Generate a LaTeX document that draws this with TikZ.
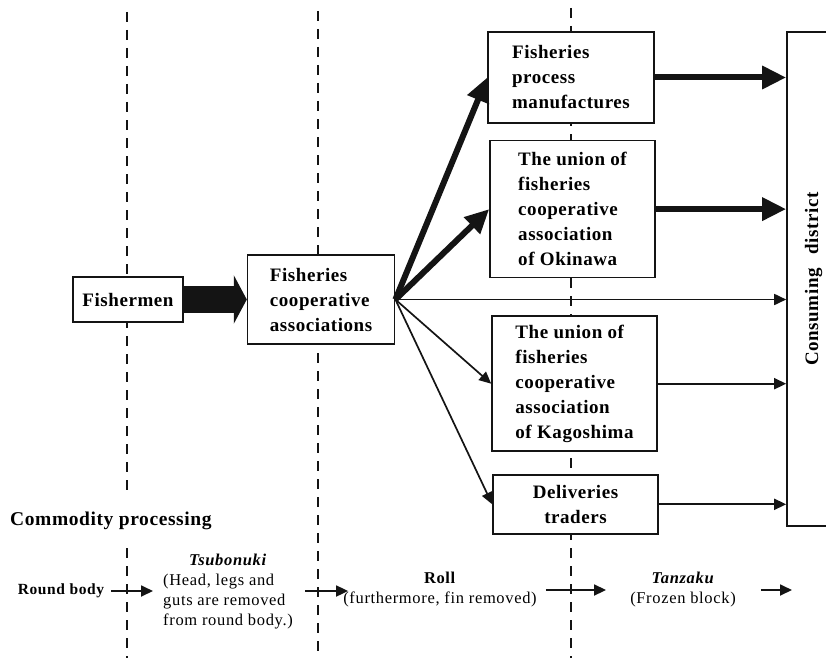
\documentclass[tikz,border=0pt]{standalone}
\usepackage{fontspec}
\setmainfont{Liberation Serif}
\newfontfamily\boxfont[LetterSpace=3]{Liberation Serif}
\newfontfamily\procfont[LetterSpace=4]{Liberation Serif}
\usepackage{graphicx}
\usepackage{tikz}
\usetikzlibrary{
  positioning,
  arrows.meta
}
\definecolor{inkcolor}{RGB}{20,20,20}
\tikzset{
  actorbox/.style={
    draw=inkcolor, fill=white, line width=1.6pt, inner sep=2pt,
    font=\boxfont\fontsize{19}{25}\selectfont\bfseries, align=left
  },
  sepline/.style={
    draw=inkcolor, line width=2pt, dash pattern=on 10pt off 8pt
  },
  massarrow/.style={
    -{Triangle[length=13pt, width=48pt]}, line width=27pt, draw=inkcolor
  },
  heavyarrow/.style={
    -{Triangle[length=24pt, width=22pt]}, line width=6pt, draw=inkcolor
  },
  thinarrow/.style={
    -{Triangle[length=12pt, width=11pt]}, line width=1.7pt, draw=inkcolor
  },
  procarrow/.style={
    -{Triangle[length=12pt, width=11pt]}, line width=1.8pt, draw=inkcolor
  },
  proctext/.style={
    inner sep=0pt, font=\procfont\fontsize{16.5}{20}\selectfont, align=center
  }
}
\begin{document}
\begin{tikzpicture}[x=1pt, y=-1pt]
  \clip (0,0) rectangle (826,658);

  % stage separators
  \draw[sepline] (127,12) -- (127,492);
  \draw[sepline] (127,548) -- (127,658);
  \draw[sepline] (318,11) -- (318,658);
  \draw[sepline] (571,8) -- (571,658);

  % distribution channel
  \node[actorbox, minimum width=110pt, minimum height=45pt] (fisher) at (128,299.5) {Fishermen};
  \node[actorbox, minimum width=147pt, minimum height=89pt, right=63pt of fisher] (coop) {Fisheries\\cooperative\\associations};

  \node[actorbox, minimum width=166pt, minimum height=91pt] (process) at (571,77.5) {Fisheries\\process\\manufactures};
  \node[actorbox, minimum width=165pt, minimum height=137pt, below=16pt of process, xshift=1.5pt] (okinawa) {The union of\\fisheries\\cooperative\\association\\of Okinawa};
  \node[actorbox, minimum width=165pt, minimum height=135pt, below=37pt of okinawa, xshift=2pt] (kagoshima) {The union of\\fisheries\\cooperative\\association\\of Kagoshima};
  \node[actorbox, minimum width=165pt, minimum height=59pt, below=22pt of kagoshima, xshift=1pt, align=center] (trader) {Deliveries\\traders};

  \node[actorbox, minimum width=53pt, minimum height=494pt] (consume) at (813.5,279) {\rotatebox{90}{Consuming\hspace{14pt}district}};

  \draw[massarrow] (fisher.east) -- (coop.west);
  \draw[heavyarrow] (coop.east) -- (process.west);
  \draw[heavyarrow] (coop.east) -- (okinawa.west);
  \draw[thinarrow] (coop.east) -- (coop.east -| consume.west);
  \draw[thinarrow] (coop.east) -- (kagoshima.west);
  \draw[thinarrow] (coop.east) -- (trader.west);

  \draw[heavyarrow] (process.east) -- (process.east -| consume.west);
  \draw[heavyarrow] (okinawa.east) -- (okinawa.east -| consume.west);
  \draw[thinarrow] (kagoshima.east) -- (kagoshima.east -| consume.west);
  \draw[thinarrow] (trader.east) -- (trader.east -| consume.west);

  % commodity processing
  \node[inner sep=0pt, anchor=west, font=\boxfont\fontsize{19.5}{25}\selectfont\bfseries] (cpt) at (10,521) {Commodity processing};

  \node[proctext, font=\procfont\fontsize{15.5}{20}\selectfont\bfseries] (round) at (61,591) {Round body};
  \node[proctext, anchor=west] (tsubo) at (163,591) {\begin{tabular}{@{}l@{}}\multicolumn{1}{@{}c@{}}{\textbf{\textit{Tsubonuki}}}\\(Head, legs and\\guts are removed\\from round body.)\end{tabular}};
  \node[proctext] (roll) at (440,590) {\textbf{Roll}\\(furthermore, fin removed)};
  \node[proctext] (tanzaku) at (683,590) {\textbf{\textit{Tanzaku}}\\(Frozen block)};
  \coordinate (tanend) at (792,588);

  \draw[procarrow, shorten <=7pt, shorten >=10pt] (round.east) -- (round.east -| tsubo.west);
  \draw[procarrow, shorten <=12pt, shorten >=-5pt] (tsubo.east) -- (tsubo.east -| roll.west);
  \draw[procarrow, shorten <=9pt, shorten >=24pt] (roll.east) -- (roll.east -| tanzaku.west);
  \draw[procarrow, shorten <=25pt] (tanzaku.east) -- (tanzaku.east -| tanend);
\end{tikzpicture}
\end{document}
